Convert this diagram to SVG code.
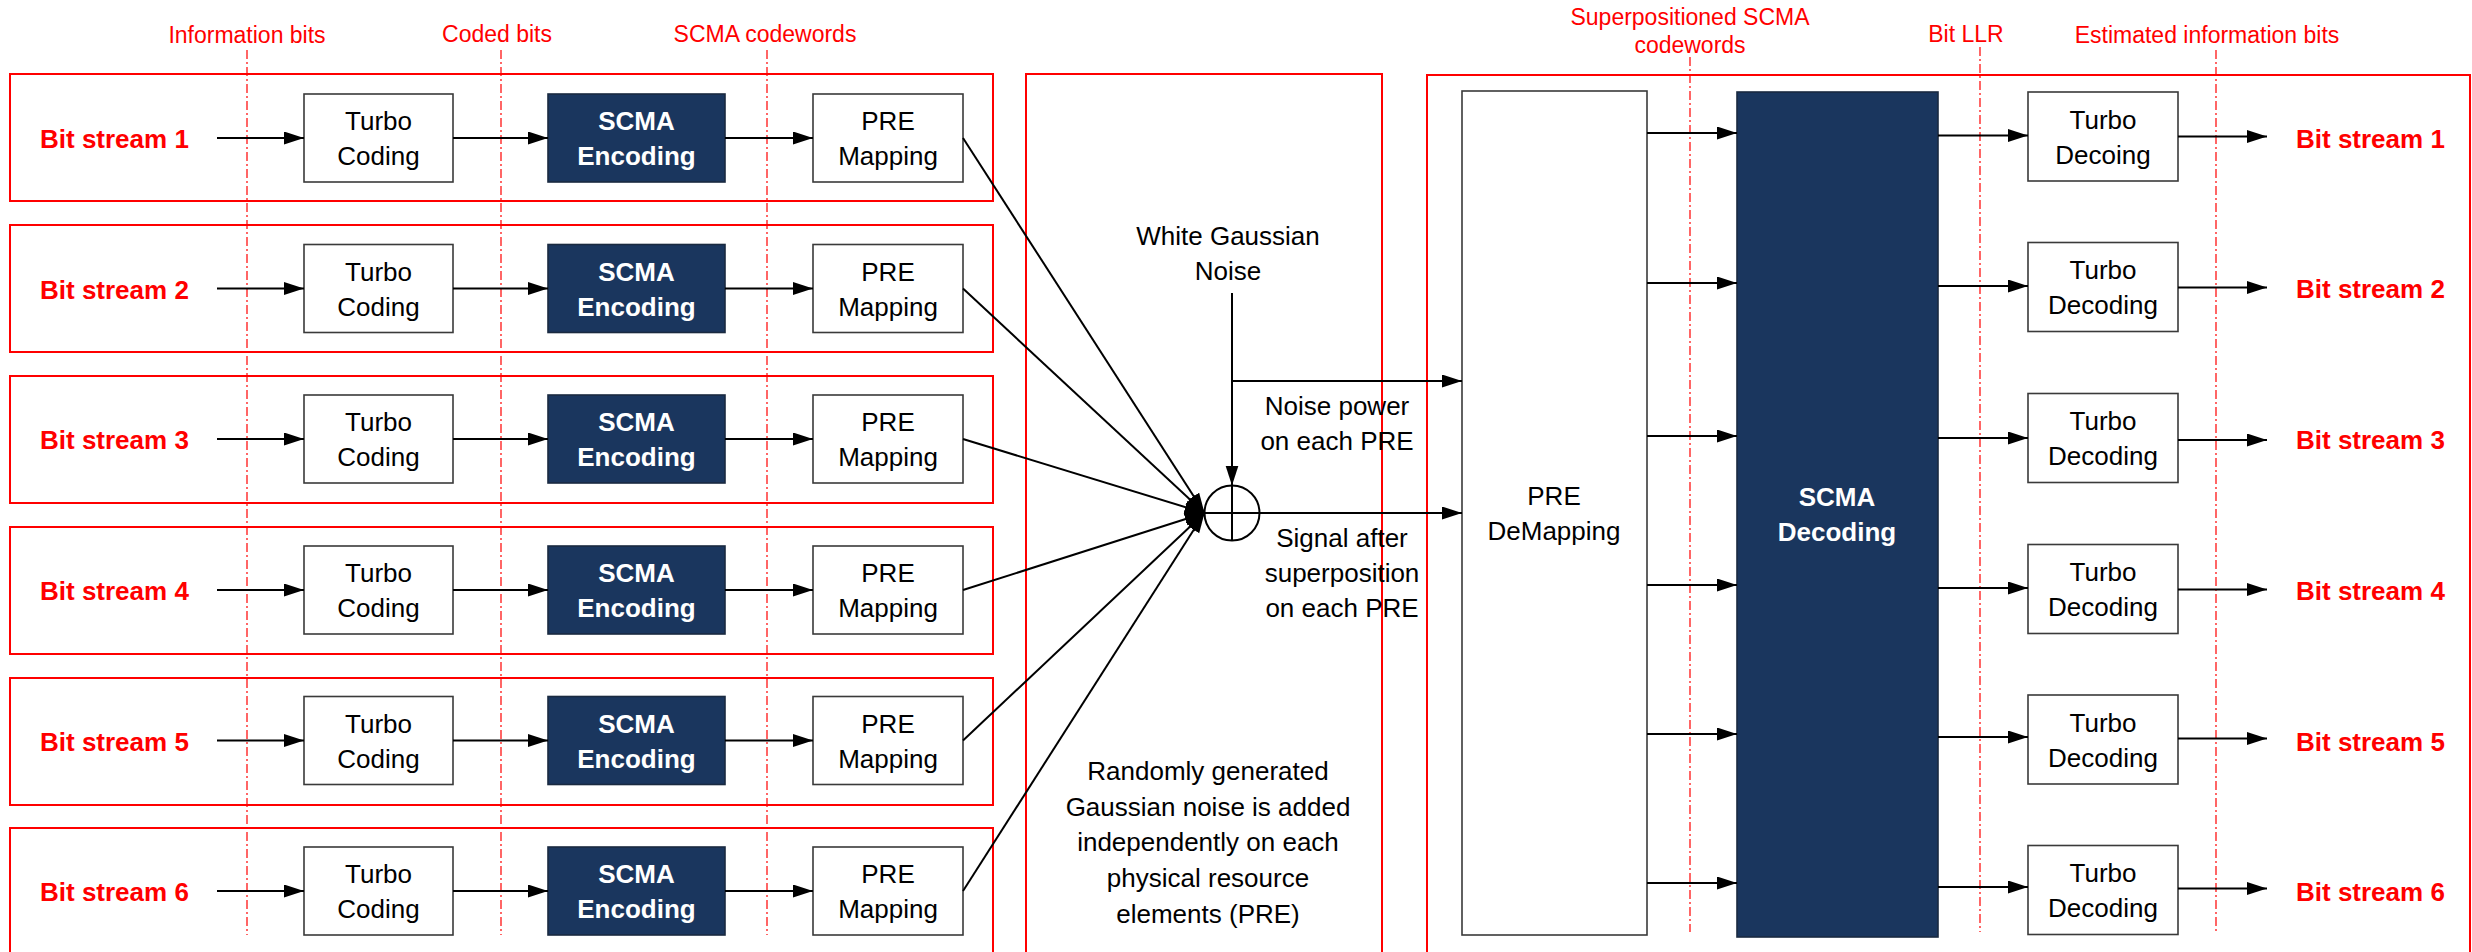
<svg xmlns="http://www.w3.org/2000/svg" width="2472" height="952" viewBox="0 0 2472 952">
  <style>
    text { font-family: "Liberation Sans", Arial, sans-serif; }
    .frame { fill: none; stroke: #ff0000; stroke-width: 2; }
    .guide { stroke: #ff0000; stroke-width: 1.2; stroke-dasharray: 9 3 2 3; fill: none; }
    .glabel { fill: #ff0000; font-size: 23px; text-anchor: middle; }
    .box { fill: #ffffff; stroke: #3a3a3a; stroke-width: 1.6; }
    .dark { fill: #1a365e; stroke: #1a2a40; stroke-width: 1.6; }
    .t { fill: #000000; font-size: 26px; text-anchor: middle; }
    .tw { fill: #ffffff; font-size: 26px; font-weight: bold; text-anchor: middle; }
    .bs { fill: #ff0000; font-size: 26px; font-weight: bold; }
    .note { fill: #000000; font-size: 26px; text-anchor: middle; }
    .wire { stroke: #000000; stroke-width: 2; fill: none; }
    .arr { stroke: #000000; stroke-width: 2; fill: none; marker-end: url(#head); }
  </style>
  <defs>
    <marker id="head" markerUnits="userSpaceOnUse" markerWidth="21" markerHeight="14" refX="20" refY="6.5" orient="auto">
      <path d="M0,0 L20,6.5 L0,13 Z" fill="#000000"/>
    </marker>
  </defs>

  <rect width="2472" height="952" fill="#ffffff"/>

  <!-- panel frames -->
  <g id="frames">
    <rect class="frame" x="10" y="74" width="983" height="127"/>
    <rect class="frame" x="10" y="225" width="983" height="127"/>
    <rect class="frame" x="10" y="376" width="983" height="127"/>
    <rect class="frame" x="10" y="527" width="983" height="127"/>
    <rect class="frame" x="10" y="678" width="983" height="127"/>
    <rect class="frame" x="10" y="828" width="983" height="127"/>
    <rect class="frame" x="1026" y="74" width="356" height="900"/>
    <rect class="frame" x="1427" y="75" width="1043" height="900"/>
  </g>

  <!-- stage guide lines and labels -->
  <g id="guides">
    <line class="guide" x1="247" y1="50" x2="247" y2="935"/>
    <line class="guide" x1="501" y1="50" x2="501" y2="935"/>
    <line class="guide" x1="767" y1="50" x2="767" y2="935"/>
    <line class="guide" x1="1690" y1="57" x2="1690" y2="932"/>
    <line class="guide" x1="1980" y1="47" x2="1980" y2="932"/>
    <line class="guide" x1="2216" y1="50" x2="2216" y2="932"/>
    <text class="glabel" x="247" y="43">Information bits</text>
    <text class="glabel" x="497" y="42">Coded bits</text>
    <text class="glabel" x="765" y="42">SCMA codewords</text>
    <text class="glabel" x="1690" y="25">Superpositioned SCMA</text>
    <text class="glabel" x="1690" y="53">codewords</text>
    <text class="glabel" x="1966" y="42">Bit LLR</text>
    <text class="glabel" x="2207" y="43">Estimated information bits</text>
  </g>

  <!-- transmitter chains -->
  <g id="tx1">
    <text class="bs" x="40" y="148">Bit stream 1</text>
    <rect class="box" x="304" y="94" width="149" height="88"/>
    <text class="t" x="378.5" y="130">Turbo</text><text class="t" x="378.5" y="165">Coding</text>
    <rect class="dark" x="548" y="94" width="177" height="88"/>
    <text class="tw" x="636.5" y="130">SCMA</text><text class="tw" x="636.5" y="165">Encoding</text>
    <rect class="box" x="813" y="94" width="150" height="88"/>
    <text class="t" x="888" y="130">PRE</text><text class="t" x="888" y="165">Mapping</text>
  </g>
  <g id="tx2">
    <text class="bs" x="40" y="298.5">Bit stream 2</text>
    <rect class="box" x="304" y="244.5" width="149" height="88"/>
    <text class="t" x="378.5" y="280.5">Turbo</text><text class="t" x="378.5" y="315.5">Coding</text>
    <rect class="dark" x="548" y="244.5" width="177" height="88"/>
    <text class="tw" x="636.5" y="280.5">SCMA</text><text class="tw" x="636.5" y="315.5">Encoding</text>
    <rect class="box" x="813" y="244.5" width="150" height="88"/>
    <text class="t" x="888" y="280.5">PRE</text><text class="t" x="888" y="315.5">Mapping</text>
  </g>
  <g id="tx3">
    <text class="bs" x="40" y="449">Bit stream 3</text>
    <rect class="box" x="304" y="395" width="149" height="88"/>
    <text class="t" x="378.5" y="431">Turbo</text><text class="t" x="378.5" y="466">Coding</text>
    <rect class="dark" x="548" y="395" width="177" height="88"/>
    <text class="tw" x="636.5" y="431">SCMA</text><text class="tw" x="636.5" y="466">Encoding</text>
    <rect class="box" x="813" y="395" width="150" height="88"/>
    <text class="t" x="888" y="431">PRE</text><text class="t" x="888" y="466">Mapping</text>
  </g>
  <g id="tx4">
    <text class="bs" x="40" y="600">Bit stream 4</text>
    <rect class="box" x="304" y="546" width="149" height="88"/>
    <text class="t" x="378.5" y="582">Turbo</text><text class="t" x="378.5" y="617">Coding</text>
    <rect class="dark" x="548" y="546" width="177" height="88"/>
    <text class="tw" x="636.5" y="582">SCMA</text><text class="tw" x="636.5" y="617">Encoding</text>
    <rect class="box" x="813" y="546" width="150" height="88"/>
    <text class="t" x="888" y="582">PRE</text><text class="t" x="888" y="617">Mapping</text>
  </g>
  <g id="tx5">
    <text class="bs" x="40" y="750.5">Bit stream 5</text>
    <rect class="box" x="304" y="696.5" width="149" height="88"/>
    <text class="t" x="378.5" y="732.5">Turbo</text><text class="t" x="378.5" y="767.5">Coding</text>
    <rect class="dark" x="548" y="696.5" width="177" height="88"/>
    <text class="tw" x="636.5" y="732.5">SCMA</text><text class="tw" x="636.5" y="767.5">Encoding</text>
    <rect class="box" x="813" y="696.5" width="150" height="88"/>
    <text class="t" x="888" y="732.5">PRE</text><text class="t" x="888" y="767.5">Mapping</text>
  </g>
  <g id="tx6">
    <text class="bs" x="40" y="901">Bit stream 6</text>
    <rect class="box" x="304" y="847" width="149" height="88"/>
    <text class="t" x="378.5" y="883">Turbo</text><text class="t" x="378.5" y="918">Coding</text>
    <rect class="dark" x="548" y="847" width="177" height="88"/>
    <text class="tw" x="636.5" y="883">SCMA</text><text class="tw" x="636.5" y="918">Encoding</text>
    <rect class="box" x="813" y="847" width="150" height="88"/>
    <text class="t" x="888" y="883">PRE</text><text class="t" x="888" y="918">Mapping</text>
  </g>

  <!-- channel -->
  <g id="channel">
    <text class="note" x="1228" y="245">White Gaussian</text>
    <text class="note" x="1228" y="280">Noise</text>
    <circle cx="1232" cy="513" r="27.5" fill="#ffffff" stroke="#000000" stroke-width="2"/>
    <line class="wire" x1="1232" y1="485.5" x2="1232" y2="540.5"/>
    <line class="wire" x1="1204.5" y1="513" x2="1259.5" y2="513"/>
    <text class="note" x="1337" y="415">Noise power</text>
    <text class="note" x="1337" y="450">on each PRE</text>
    <text class="note" x="1342" y="547">Signal after</text>
    <text class="note" x="1342" y="582">superposition</text>
    <text class="note" x="1342" y="617">on each PRE</text>
    <text class="note" x="1208" y="780">Randomly generated</text>
    <text class="note" x="1208" y="816">Gaussian noise is added</text>
    <text class="note" x="1208" y="851">independently on each</text>
    <text class="note" x="1208" y="887">physical resource</text>
    <text class="note" x="1208" y="923">elements (PRE)</text>
  </g>

  <!-- receiver -->
  <g id="pre-demapping">
    <rect class="box" x="1462" y="91" width="185" height="844"/>
    <text class="t" x="1554" y="505">PRE</text>
    <text class="t" x="1554" y="540">DeMapping</text>
  </g>
  <g id="scma-decoding">
    <rect class="dark" x="1737" y="92" width="201" height="845"/>
    <text class="tw" x="1837" y="506">SCMA</text>
    <text class="tw" x="1837" y="541">Decoding</text>
  </g>
  <g id="rx1">
    <rect class="box" x="2028" y="92" width="150" height="89"/>
    <text class="t" x="2103" y="128.5">Turbo</text><text class="t" x="2103" y="163.5">Decoing</text>
    <text class="bs" x="2296" y="147.5">Bit stream 1</text>
  </g>
  <g id="rx2">
    <rect class="box" x="2028" y="242.5" width="150" height="89"/>
    <text class="t" x="2103" y="279">Turbo</text><text class="t" x="2103" y="314">Decoding</text>
    <text class="bs" x="2296" y="298">Bit stream 2</text>
  </g>
  <g id="rx3">
    <rect class="box" x="2028" y="393.5" width="150" height="89"/>
    <text class="t" x="2103" y="430">Turbo</text><text class="t" x="2103" y="465">Decoding</text>
    <text class="bs" x="2296" y="449">Bit stream 3</text>
  </g>
  <g id="rx4">
    <rect class="box" x="2028" y="544.5" width="150" height="89"/>
    <text class="t" x="2103" y="581">Turbo</text><text class="t" x="2103" y="616">Decoding</text>
    <text class="bs" x="2296" y="600">Bit stream 4</text>
  </g>
  <g id="rx5">
    <rect class="box" x="2028" y="695" width="150" height="89"/>
    <text class="t" x="2103" y="731.5">Turbo</text><text class="t" x="2103" y="766.5">Decoding</text>
    <text class="bs" x="2296" y="750.5">Bit stream 5</text>
  </g>
  <g id="rx6">
    <rect class="box" x="2028" y="845.5" width="150" height="89"/>
    <text class="t" x="2103" y="882">Turbo</text><text class="t" x="2103" y="917">Decoding</text>
    <text class="bs" x="2296" y="901">Bit stream 6</text>
  </g>

  <!-- connectors -->
  <g id="connectors">
    <!-- transmitter chain arrows -->
    <line class="arr" x1="217" y1="138" x2="304" y2="138"/>
    <line class="arr" x1="453" y1="138" x2="548" y2="138"/>
    <line class="arr" x1="725" y1="138" x2="813" y2="138"/>
    <line class="arr" x1="217" y1="288.5" x2="304" y2="288.5"/>
    <line class="arr" x1="453" y1="288.5" x2="548" y2="288.5"/>
    <line class="arr" x1="725" y1="288.5" x2="813" y2="288.5"/>
    <line class="arr" x1="217" y1="439" x2="304" y2="439"/>
    <line class="arr" x1="453" y1="439" x2="548" y2="439"/>
    <line class="arr" x1="725" y1="439" x2="813" y2="439"/>
    <line class="arr" x1="217" y1="590" x2="304" y2="590"/>
    <line class="arr" x1="453" y1="590" x2="548" y2="590"/>
    <line class="arr" x1="725" y1="590" x2="813" y2="590"/>
    <line class="arr" x1="217" y1="740.5" x2="304" y2="740.5"/>
    <line class="arr" x1="453" y1="740.5" x2="548" y2="740.5"/>
    <line class="arr" x1="725" y1="740.5" x2="813" y2="740.5"/>
    <line class="arr" x1="217" y1="891" x2="304" y2="891"/>
    <line class="arr" x1="453" y1="891" x2="548" y2="891"/>
    <line class="arr" x1="725" y1="891" x2="813" y2="891"/>
    <!-- PRE mappings into the adder -->
    <line class="arr" x1="963" y1="138" x2="1204.5" y2="513"/>
    <line class="arr" x1="963" y1="288.5" x2="1204.5" y2="513"/>
    <line class="arr" x1="963" y1="439" x2="1204.5" y2="513"/>
    <line class="arr" x1="963" y1="590" x2="1204.5" y2="513"/>
    <line class="arr" x1="963" y1="740.5" x2="1204.5" y2="513"/>
    <line class="arr" x1="963" y1="891" x2="1204.5" y2="513"/>
    <!-- noise source into the adder, and both outputs to PRE DeMapping -->
    <line class="arr" x1="1232" y1="293" x2="1232" y2="485.5"/>
    <polyline class="arr" points="1232,381 1462,381"/>
    <line class="arr" x1="1259.5" y1="513" x2="1462" y2="513"/>
    <!-- PRE DeMapping to SCMA Decoding -->
    <line class="arr" x1="1647" y1="133" x2="1737" y2="133"/>
    <line class="arr" x1="1647" y1="283" x2="1737" y2="283"/>
    <line class="arr" x1="1647" y1="436" x2="1737" y2="436"/>
    <line class="arr" x1="1647" y1="585" x2="1737" y2="585"/>
    <line class="arr" x1="1647" y1="734" x2="1737" y2="734"/>
    <line class="arr" x1="1647" y1="883" x2="1737" y2="883"/>
    <!-- SCMA Decoding to Turbo Decoding -->
    <line class="arr" x1="1938" y1="135.5" x2="2028" y2="135.5"/>
    <line class="arr" x1="1938" y1="286" x2="2028" y2="286"/>
    <line class="arr" x1="1938" y1="438" x2="2028" y2="438"/>
    <line class="arr" x1="1938" y1="588" x2="2028" y2="588"/>
    <line class="arr" x1="1938" y1="737" x2="2028" y2="737"/>
    <line class="arr" x1="1938" y1="887" x2="2028" y2="887"/>
    <!-- Turbo Decoding to output streams -->
    <line class="arr" x1="2178" y1="136.5" x2="2267" y2="136.5"/>
    <line class="arr" x1="2178" y1="287.5" x2="2267" y2="287.5"/>
    <line class="arr" x1="2178" y1="440" x2="2267" y2="440"/>
    <line class="arr" x1="2178" y1="589.5" x2="2267" y2="589.5"/>
    <line class="arr" x1="2178" y1="738.5" x2="2267" y2="738.5"/>
    <line class="arr" x1="2178" y1="888.5" x2="2267" y2="888.5"/>
  </g>
</svg>
